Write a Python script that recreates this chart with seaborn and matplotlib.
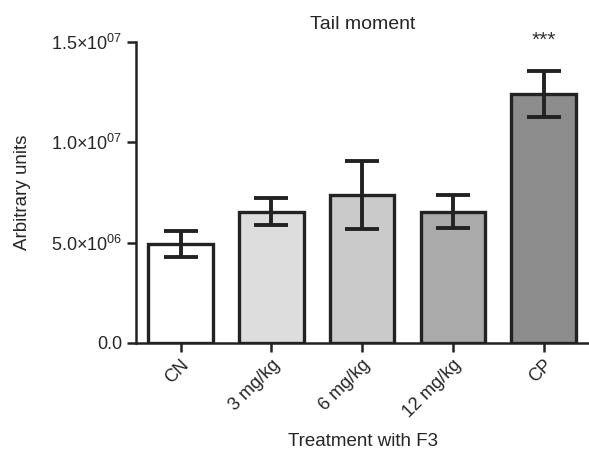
import numpy as np
import pandas as pd
import matplotlib
matplotlib.use('Agg')
import matplotlib.pyplot as plt
import seaborn as sns

# Data
groups = ['CN', '3 mg/kg', '6 mg/kg', '12 mg/kg', 'CP']
means = [4.95e6, 6.55e6, 7.37e6, 6.54e6, 12.4e6]
errors = [0.65e6, 0.69e6, 1.70e6, 0.83e6, 1.15e6]
bar_colors = ['#ffffff', '#dcdddc', '#c9cac9', '#aaaaaa', '#8c8c8c']
ytick_vals = [0, 5e6, 1e7, 1.5e7]
ytick_labels = ['0.0', r'5.0$\times$10$^{06}$', r'1.0$\times$10$^{07}$', r'1.5$\times$10$^{07}$']

df = pd.DataFrame({'Group': groups, 'Value': means})

sns.set_style('ticks')
plt.rcParams['font.family'] = ['Liberation Sans', 'DejaVu Sans']
plt.rcParams['mathtext.fontset'] = 'custom'
plt.rcParams['mathtext.rm'] = 'Liberation Sans'

fig = plt.figure(figsize=(5.89, 4.54), dpi=100)
ax = fig.add_axes([0.231, 0.2445, 0.769, 0.663])

sns.barplot(data=df, x='Group', y='Value', hue='Group', palette=bar_colors,
            legend=False, errorbar=None, width=0.71, edgecolor='#222222',
            linewidth=2.4, ax=ax)
ax.errorbar(np.arange(len(groups)), means, yerr=errors, fmt='none',
            ecolor='#222222', elinewidth=2.8, capsize=12, capthick=2.8)

ax.set_xlim(-0.49, 4.5)
ax.set_ylim(0, 1.5e7)
ax.set_yticks(ytick_vals)
ax.set_yticklabels(ytick_labels, fontsize=13)
ax.set_xticks(range(len(groups)))
ax.set_xticklabels(groups, rotation=45, ha='right', rotation_mode='anchor', fontsize=13)
ax.tick_params(axis='both', width=1.8, length=6.5, color='#222222')
ax.tick_params(axis='x', pad=3)

for side in ['top', 'right']:
    ax.spines[side].set_visible(False)
for side in ['left', 'bottom']:
    ax.spines[side].set_linewidth(1.8)
    ax.spines[side].set_color('#222222')

ax.set_title('Tail moment', fontsize=14, pad=9)
ax.set_ylabel('Arbitrary units', fontsize=13.5, labelpad=14)
ax.set_xlabel('Treatment with F3', fontsize=13.5, labelpad=9)

ax.text(4, 1.51e7, '***', ha='center', va='center', fontsize=15,
        color='#333333', clip_on=False)

fig.savefig('out.png', dpi=100)
